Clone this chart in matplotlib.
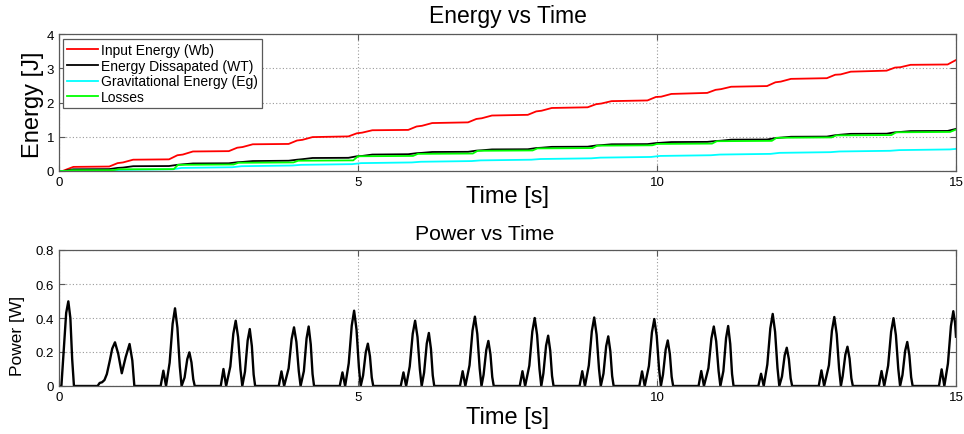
import matplotlib
matplotlib.use("Agg")
import matplotlib.pyplot as plt

plt.rcParams['font.family'] = ['Liberation Sans', 'DejaVu Sans']

# ---------------- data ----------------
time_ticks = [0, 5, 10, 15]
time_ticklabels = ['0', '5', '10', '15']
energy_ticks = [0, 1, 2, 3, 4]
energy_ticklabels = ['0', '1', '2', '3', '4']
power_ticks = [0, 0.2, 0.4, 0.6, 0.8]
power_ticklabels = ['0', '0.2', '0.4', '0.6', '0.8']

series_labels = ['Input Energy (Wb)', 'Energy Dissapated (WT)',
                 'Gravitational Energy (Eg)', 'Losses']

# Input energy Wb [J]
input_time = [0.0, 0.06, 0.24,
              0.84, 0.98, 1.07, 1.24,
              1.84, 1.98, 2.07, 2.24,
              2.84, 2.98, 3.07, 3.24,
              3.84, 3.98, 4.07, 4.24,
              4.84, 4.98, 5.07, 5.24,
              5.84, 5.98, 6.07, 6.24,
              6.84, 6.98, 7.07, 7.24,
              7.84, 7.98, 8.07, 8.24,
              8.84, 8.98, 9.07, 9.24,
              9.84, 9.98, 10.07, 10.24,
              10.84, 10.98, 11.07, 11.24,
              11.84, 11.98, 12.07, 12.24,
              12.84, 12.98, 13.07, 13.24,
              13.84, 13.98, 14.07, 14.24,
              14.86, 15.0]
input_energy = [0.0, 0.0, 0.12,
                0.13, 0.23, 0.25, 0.33,
                0.34, 0.46, 0.48, 0.57,
                0.58, 0.68, 0.70, 0.78,
                0.79, 0.89, 0.91, 0.99,
                1.01, 1.10, 1.12, 1.19,
                1.20, 1.30, 1.32, 1.40,
                1.42, 1.52, 1.54, 1.62,
                1.64, 1.74, 1.76, 1.84,
                1.86, 1.95, 1.97, 2.04,
                2.06, 2.16, 2.17, 2.25,
                2.28, 2.37, 2.39, 2.46,
                2.48, 2.59, 2.61, 2.69,
                2.71, 2.81, 2.82, 2.90,
                2.93, 3.02, 3.03, 3.10,
                3.11, 3.24]

# Energy dissipated WT [J]
dissipated_time = [0.0, 0.08, 0.24,
                   0.84, 0.98, 1.07, 1.24,
                   1.84, 1.98, 2.07, 2.24,
                   2.84, 2.98, 3.07, 3.24,
                   3.84, 3.98, 4.07, 4.24,
                   4.84, 4.98, 5.07, 5.24,
                   5.84, 5.98, 6.07, 6.24,
                   6.84, 6.98, 7.07, 7.24,
                   7.84, 7.98, 8.07, 8.24,
                   8.84, 8.98, 9.07, 9.24,
                   9.84, 9.98, 10.07, 10.24,
                   10.84, 10.98, 11.07, 11.24,
                   11.84, 11.98, 12.07, 12.24,
                   12.84, 12.98, 13.07, 13.24,
                   13.84, 13.98, 14.07, 14.24,
                   14.86, 15.0]
dissipated_energy = [0.0, 0.0, 0.05,
                     0.055, 0.09, 0.10, 0.14,
                     0.145, 0.18, 0.195, 0.22,
                     0.225, 0.255, 0.265, 0.29,
                     0.30, 0.33, 0.345, 0.38,
                     0.385, 0.43, 0.44, 0.48,
                     0.49, 0.52, 0.53, 0.555,
                     0.56, 0.595, 0.605, 0.63,
                     0.635, 0.67, 0.68, 0.705,
                     0.71, 0.745, 0.755, 0.78,
                     0.785, 0.815, 0.825, 0.845,
                     0.85, 0.875, 0.885, 0.915,
                     0.92, 0.96, 0.975, 1.00,
                     1.005, 1.045, 1.06, 1.085,
                     1.09, 1.13, 1.14, 1.165,
                     1.17, 1.23]

# Gravitational energy Eg [J]
gravity_time = [0.0, 0.85, 1.0, 1.9, 2.05, 2.9, 3.05, 3.9, 4.05, 4.9, 5.05,
                5.9, 6.05, 6.9, 7.05, 7.9, 8.05, 8.9, 9.05, 9.9, 10.05,
                10.9, 11.05, 11.9, 12.05, 12.9, 13.05, 13.9, 14.05, 14.9, 15.0]
gravity_energy = [0.0, 0.0, 0.03, 0.05, 0.09, 0.11, 0.14, 0.16, 0.18, 0.20, 0.23,
                  0.25, 0.27, 0.29, 0.31, 0.33, 0.35, 0.37, 0.39, 0.41, 0.44,
                  0.46, 0.48, 0.50, 0.53, 0.55, 0.57, 0.59, 0.61, 0.63, 0.645]

# Losses [J]
losses_time = [0.0, 0.12, 0.2,
               0.9, 1.0, 1.92, 1.99, 2.92, 3.0, 3.92, 4.0, 4.92, 5.0,
               5.92, 6.0, 6.92, 7.0, 7.92, 8.0, 8.92, 9.0, 9.92, 10.0,
               10.92, 11.0, 11.92, 12.0, 12.92, 13.0, 13.92, 14.0, 14.9, 15.0]
losses_energy = [0.0, 0.0, 0.02,
                 0.025, 0.05, 0.055, 0.18, 0.19, 0.24, 0.25, 0.30, 0.31, 0.43,
                 0.44, 0.50, 0.51, 0.59, 0.60, 0.66, 0.67, 0.74, 0.75, 0.79,
                 0.80, 0.87, 0.88, 0.97, 0.98, 1.04, 1.05, 1.13, 1.14, 1.21]

# Power [W]
power_time = [
    0.00, 0.04, 0.08, 0.12, 0.156, 0.19, 0.22, 0.25,
    0.645, 0.68, 0.72, 0.76, 0.80, 0.85, 0.89, 0.936, 0.99, 1.05, 1.115, 1.18, 1.226, 1.26,
    1.70, 1.745, 1.79, 1.85, 1.90, 1.94, 1.98, 2.02, 2.05, 2.10, 2.145, 2.18, 2.215, 2.245, 2.27,
    2.705, 2.75, 2.795, 2.865, 2.915, 2.955, 2.995, 3.035, 3.065, 3.11, 3.155, 3.19, 3.225, 3.255, 3.28,
    3.675, 3.72, 3.765, 3.84, 3.89, 3.93, 3.97, 4.01, 4.04, 4.095, 4.14, 4.175, 4.21, 4.24, 4.265,
    4.695, 4.74, 4.785, 4.845, 4.895, 4.935, 4.975, 5.015, 5.045, 5.085, 5.13, 5.165, 5.20, 5.23, 5.255,
    5.715, 5.76, 5.805, 5.865, 5.915, 5.955, 5.995, 6.035, 6.065, 6.105, 6.15, 6.185, 6.22, 6.25, 6.275,
    6.705, 6.75, 6.795, 6.865, 6.915, 6.955, 6.995, 7.035, 7.065, 7.10, 7.145, 7.18, 7.215, 7.245, 7.27,
    7.705, 7.75, 7.795, 7.865, 7.915, 7.955, 7.995, 8.035, 8.065, 8.10, 8.145, 8.18, 8.215, 8.245, 8.27,
    8.705, 8.75, 8.795, 8.86, 8.91, 8.95, 8.99, 9.03, 9.06, 9.105, 9.15, 9.185, 9.22, 9.25, 9.275,
    9.705, 9.75, 9.795, 9.865, 9.915, 9.955, 9.995, 10.035, 10.065, 10.10, 10.145, 10.18, 10.215, 10.245, 10.27,
    10.695, 10.74, 10.785, 10.86, 10.91, 10.95, 10.99, 11.03, 11.06, 11.11, 11.155, 11.19, 11.225, 11.255, 11.28,
    11.695, 11.74, 11.785, 11.845, 11.895, 11.935, 11.975, 12.015, 12.045, 12.09, 12.135, 12.17, 12.205, 12.235, 12.26,
    12.705, 12.75, 12.795, 12.875, 12.925, 12.965, 13.005, 13.045, 13.075, 13.105, 13.15, 13.185, 13.22, 13.25, 13.275,
    13.71, 13.755, 13.80, 13.865, 13.915, 13.955, 13.995, 14.035, 14.065, 14.105, 14.15, 14.185, 14.22, 14.25, 14.275,
    14.715, 14.76, 14.805, 14.865, 14.915, 14.955, 14.985, 15.0,
]
power_watts = [
    0.0, 0.0, 0.22, 0.43, 0.498, 0.40, 0.16, 0.0,
    0.0, 0.018, 0.022, 0.035, 0.07, 0.15, 0.22, 0.257, 0.19, 0.075, 0.17, 0.247, 0.15, 0.0,
    0.0, 0.09, 0.0, 0.137, 0.366, 0.457, 0.343, 0.114, 0.0, 0.050, 0.158, 0.198, 0.139, 0.040, 0.0,
    0.0, 0.10, 0.0, 0.115, 0.307, 0.384, 0.288, 0.096, 0.0, 0.084, 0.268, 0.335, 0.235, 0.067, 0.0,
    0.0, 0.086, 0.0, 0.104, 0.276, 0.345, 0.259, 0.086, 0.0, 0.088, 0.280, 0.350, 0.245, 0.070, 0.0,
    0.0, 0.08, 0.0, 0.133, 0.354, 0.443, 0.332, 0.111, 0.0, 0.062, 0.199, 0.249, 0.174, 0.050, 0.0,
    0.0, 0.08, 0.0, 0.115, 0.307, 0.384, 0.288, 0.096, 0.0, 0.078, 0.250, 0.312, 0.218, 0.062, 0.0,
    0.0, 0.087, 0.0, 0.122, 0.326, 0.408, 0.306, 0.102, 0.0, 0.066, 0.212, 0.265, 0.186, 0.053, 0.0,
    0.0, 0.087, 0.0, 0.120, 0.320, 0.400, 0.300, 0.100, 0.0, 0.074, 0.237, 0.296, 0.207, 0.059, 0.0,
    0.0, 0.087, 0.0, 0.121, 0.322, 0.403, 0.302, 0.101, 0.0, 0.073, 0.234, 0.292, 0.204, 0.058, 0.0,
    0.0, 0.086, 0.0, 0.118, 0.315, 0.394, 0.296, 0.099, 0.0, 0.067, 0.214, 0.268, 0.188, 0.054, 0.0,
    0.0, 0.088, 0.0, 0.105, 0.280, 0.350, 0.263, 0.088, 0.0, 0.088, 0.282, 0.353, 0.247, 0.071, 0.0,
    0.0, 0.072, 0.0, 0.127, 0.339, 0.424, 0.318, 0.106, 0.0, 0.056, 0.180, 0.225, 0.158, 0.045, 0.0,
    0.0, 0.092, 0.0, 0.122, 0.325, 0.406, 0.305, 0.102, 0.0, 0.058, 0.185, 0.231, 0.162, 0.046, 0.0,
    0.0, 0.088, 0.0, 0.120, 0.319, 0.399, 0.299, 0.100, 0.0, 0.065, 0.207, 0.259, 0.181, 0.052, 0.0,
    0.0, 0.098, 0.0, 0.132, 0.352, 0.440, 0.370, 0.290,
]

# ---------------- layout ----------------
W, H = 964, 435
fig = plt.figure(figsize=(W / 100, H / 100), dpi=100)
fig.patch.set_facecolor('white')


def px_box(left, top, right, bottom):
    return [left / W, 1 - bottom / H, (right - left) / W, (bottom - top) / H]


def fx(x):
    return x / W


def fy(y):
    return 1 - y / H


frame_col = '0.35'
grid_col = '0.6'


def style_axes(ax, yticks, yticklabels, ylim):
    ax.set_xlim(0, 15)
    ax.set_ylim(*ylim)
    ax.set_xticks(time_ticks)
    ax.set_xticklabels(time_ticklabels)
    ax.set_yticks(yticks)
    ax.set_yticklabels(yticklabels)
    ax.tick_params(direction='in', top=True, right=True, length=4, width=0.8,
                   color=frame_col, labelsize=9.5, labelcolor='black', pad=3.5)
    for s in ax.spines.values():
        s.set_color(frame_col)
        s.set_linewidth(0.9)
    ax.grid(True, color=grid_col, linestyle=(0, (1, 2)), linewidth=0.8)
    ax.set_axisbelow(True)


ax1 = fig.add_axes(px_box(59, 35, 956, 172))
ax2 = fig.add_axes(px_box(59, 251, 956, 387))

style_axes(ax1, energy_ticks, energy_ticklabels, (0, 4))
style_axes(ax2, power_ticks, power_ticklabels, (0, 0.8))

lw = 1.3
ax1.plot(input_time, input_energy, color=(1, 0, 0), lw=lw, label=series_labels[0])
ax1.plot(dissipated_time, dissipated_energy, color='black', lw=lw, label=series_labels[1])
ax1.plot(gravity_time, gravity_energy, color=(0, 1, 1), lw=lw, label=series_labels[2])
ax1.plot(losses_time, losses_energy, color=(0, 1, 0), lw=lw, label=series_labels[3])

leg = ax1.legend(loc='upper left', bbox_to_anchor=((63 - 59) / 897, (172 - 40) / 137),
                 borderaxespad=0, fontsize=10, frameon=True, fancybox=False,
                 edgecolor=frame_col, framealpha=1, handlelength=2.2,
                 handletextpad=0.25, labelspacing=0.12, borderpad=0.3)
leg.get_frame().set_linewidth(0.9)

ax2.plot(power_time, power_watts, color='black', lw=1.7, solid_joinstyle='round')

# titles and axis labels
fig.text(fx(507.5), fy(23), 'Energy vs Time', ha='center', va='baseline', fontsize=16.5)
fig.text(fx(507.5), fy(203), 'Time [s]', ha='center', va='baseline', fontsize=17)
fig.text(fx(33), fy(104.5), 'Energy [J]', ha='center', va='center', rotation=90, fontsize=17)

fig.text(fx(485), fy(240), 'Power vs Time', ha='center', va='baseline', fontsize=15.3)
fig.text(fx(507.5), fy(424), 'Time [s]', ha='center', va='baseline', fontsize=17)
fig.text(fx(18), fy(336), 'Power [W]', ha='center', va='center', rotation=90, fontsize=12.5)

fig.savefig('out.png', dpi=100, facecolor='white')
